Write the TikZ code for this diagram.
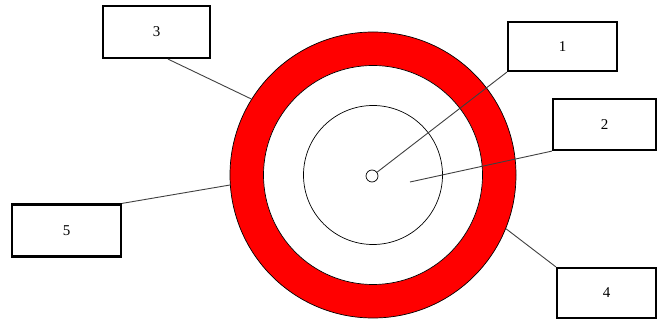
\documentclass[tikz,border=0pt]{standalone}
\usepackage{fontspec}
\setmainfont{Liberation Serif}
\usepackage{tikz}
\usetikzlibrary{positioning}

\begin{document}
\begin{tikzpicture}[x=1pt,y=-1pt,
  every node/.style={font=\fontsize{15}{17}\selectfont},
  numbox/.style={rectangle,draw,line width=2.2pt,inner sep=0pt},
  ring/.style={circle,draw,line width=0.7pt,inner sep=0pt},
  lead/.style={draw=black!75,line width=0.9pt}]
  \useasboundingbox (0,0) rectangle (658,320);
  % cable cross-section
  \node[ring,fill=red,minimum size=286pt] (sheath) at (373,175) {};
  \node[ring,fill=white,minimum size=219pt] (insul) at (373,175) {};
  \node[ring,minimum size=139pt] (core) at (373,175) {};
  \node[ring,minimum size=12pt] (wire) at (372,176) {};
  \coordinate (mid) at (410,182);
  % labels
  \node[numbox,minimum width=107pt,minimum height=52pt] (n3) at (156.5,32) {3};
  \node[numbox,minimum width=109pt,minimum height=49pt] (n1) at (562.5,46.5) {1};
  \node[numbox,minimum width=103pt,minimum height=51pt] (n2) at (604.5,124.5) {2};
  \node[numbox,minimum width=109pt,minimum height=52pt] (n5) at (66.5,230.5) {5};
  \node[numbox,minimum width=99pt,minimum height=50pt] (n4) at (606.5,293) {4};
  % leaders
  \draw[lead] (wire.37) -- (n1.south west);
  \draw[lead] (mid) -- (n2.south west);
  \draw[lead] (n3.-67) -- (sheath.148.6);
  \draw[lead] (sheath.-22.8) -- (n4.north west);
  \draw[lead] (n5.north east) -- (sheath.184.4);
\end{tikzpicture}
\end{document}
